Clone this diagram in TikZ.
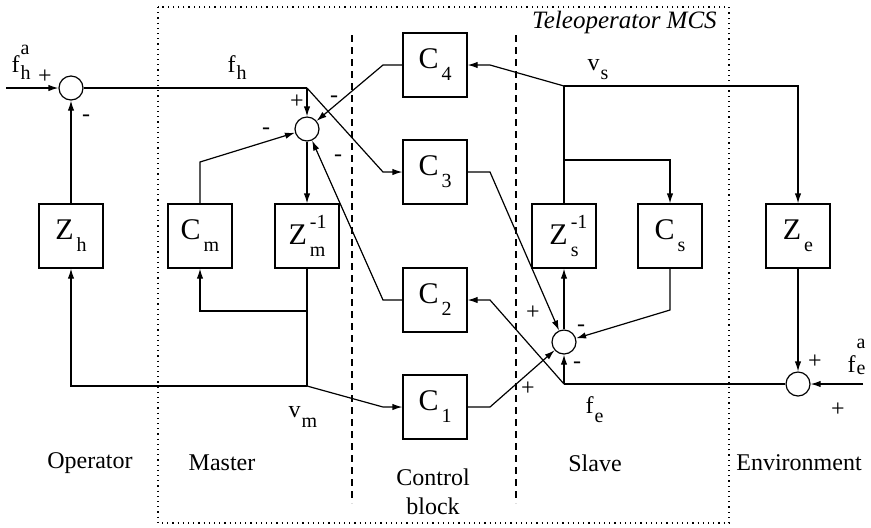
\documentclass[tikz,border=0pt]{standalone}
\usepackage{fontspec}
\setmainfont{Liberation Serif}
\usetikzlibrary{arrows.meta}

% block label: letter, subscript, superscript
\newcommand{\blk}[3]{{\fontsize{15}{15}\selectfont #1}\hspace{1.5pt}{\fontsize{10}{10}\selectfont\rlap{\raisebox{-6pt}{#2}}\rlap{\raisebox{8pt}{#3}}\phantom{#2}}}
% signal label: letter, subscript, superscript, [sub drop], [sup raise]
\newcommand{\sig}[5]{{\fontsize{12}{12}\selectfont #1}\hspace{0.5pt}{\fontsize{10}{10}\selectfont\rlap{\raisebox{-#4}{#2}}\rlap{\raisebox{#5}{#3}}\phantom{#2}}}

\begin{document}
\begin{tikzpicture}[
    x=0.5pt, y=-0.5pt,
    >={Latex[length=5pt,width=3.2pt]},
    line width=0.6pt,
    block/.style={draw, minimum size=32pt, inner sep=0pt},
    sumnode/.style={circle, draw, minimum size=12pt, inner sep=0pt},
    arrow/.style={->},
    sign/.style={font=\fontsize{12}{12}\selectfont, inner sep=0pt},
    siglabel/.style={anchor=base west, inner sep=0pt},
    region/.style={font=\fontsize{12}{14.5}\selectfont, align=center}
]
\useasboundingbox (0,0) rectangle (871,527);

% === Frames ===
\draw[dotted] (158,7) rectangle (729,523);
\draw[dash pattern=on 3.5pt off 2.5pt] (352,35) -- (352,503);
\draw[dash pattern=on 3.5pt off 2.5pt] (516,35) -- (516,503);
\node[region, font=\fontsize{12.5}{14}\selectfont\itshape, anchor=east] (title) at (724,22) {Teleoperator MCS};

% === Blocks ===
\node[block] (C4) at (435,65) {\blk{C}{4}{}};
\node[block] (C3) at (435,172) {\blk{C}{3}{}};
\node[block] (C2) at (435,300) {\blk{C}{2}{}};
\node[block] (C1) at (435,407) {\blk{C}{1}{}};
\node[block] (Zh) at (71,236) {\blk{Z}{h}{}};
\node[block] (Cm) at (200,236) {\blk{C}{m}{}};
\node[block] (Zm) at (307,236) {\blk{Z}{m}{-1}};
\node[block] (Zs) at (564,236) {\blk{Z}{s}{-1}};
\node[block] (Cs) at (670,236) {\blk{C}{s}{}};
\node[block] (Ze) at (798,236) {\blk{Z}{e}{}};

% === Summing junctions ===
\node[sumnode] (sumh) at (71,88) {};
\node[sumnode] (summ) at (307,129) {};
\node[sumnode] (sums) at (564,342) {};
\node[sumnode] (sume) at (798,384) {};

% === Branch points ===
\coordinate (inh) at (6,88);
\coordinate (ine) at (863,384);
\coordinate (fhj) at (307,88);
\coordinate (vmj) at (307,386);
\coordinate (cmj) at (307,311);
\coordinate (fej) at (564,384);
\coordinate (vsj) at (564,86);
\coordinate (csj) at (564,160);

% === Operator and master side ===
\draw[arrow] (inh) -- (sumh);
\draw (sumh) -- (fhj);
\draw[arrow] (fhj) -- (summ);
\draw[arrow] (fhj) -- (383,172) -- (C3);
\draw[arrow] (Zh) -- (sumh);
\draw[arrow] (C4) -- (383,65) -- (summ);
\draw[arrow] (Cm) -- (200,162) -- (summ);
\draw[arrow] (C2) -- (383,300) -- (summ);
\draw[arrow] (summ) -- (Zm);
\draw (Zm) -- (vmj);
\draw[arrow] (cmj) -- (200,311) -- (Cm);
\draw[arrow] (vmj) -- (71,386) -- (Zh);
\draw[arrow] (vmj) -- (383,407) -- (C1);

% === Slave and environment side ===
\draw[arrow] (C3) -- (490,172) -- (sums);
\draw[arrow] (C1) -- (490,407) -- (sums);
\draw[arrow] (Cs) -- (670,310) -- (sums);
\draw[arrow] (sums) -- (Zs);
\draw (Zs) -- (vsj);
\draw[arrow] (vsj) -- (490,65) -- (C4);
\draw[arrow] (csj) -- (670,160) -- (Cs);
\draw[arrow] (vsj) -- (798,86) -- (Ze);
\draw[arrow] (Ze) -- (sume);
\draw[arrow] (ine) -- (sume);
\draw (sume) -- (fej);
\draw[arrow] (fej) -- (sums);
\draw[arrow] (fej) -- (490,300) -- (C2);

% === Signs ===
\node[sign] (p1) at (45,77) {+};
\node[sign] (m1) at (86,118) {-};
\node[sign] (p2) at (297,102) {+};
\node[sign] (m2) at (266,131) {-};
\node[sign] (m3) at (334,99) {-};
\node[sign] (m4) at (338,158) {-};
\node[sign] (p3) at (533,313) {+};
\node[sign] (p4) at (528,389) {+};
\node[sign] (m5) at (581,328) {-};
\node[sign] (m6) at (577,365) {-};
\node[sign] (p5) at (815,362) {+};
\node[sign] (p6) at (838,410) {+};

% === Signal labels ===
\node[siglabel] (fha) at (11,72) {\sig{f}{h}{a}{3.5pt}{9pt}};
\node[siglabel] (fh) at (227,72) {\sig{f}{h}{}{3.5pt}{9pt}};
\node[siglabel] (vs) at (587,70) {\sig{v}{s}{}{4.5pt}{9pt}};
\node[siglabel] (vm) at (288,417) {\sig{v}{m}{}{5pt}{9pt}};
\node[siglabel] (fe) at (585,413) {\sig{f}{e}{}{4.5pt}{9pt}};
\node[siglabel] (fea) at (847,372) {\sig{f}{e}{a}{1pt}{12pt}};

% === Regions ===
\node[region] (op) at (90,463) {Operator};
\node[region] (ma) at (222,463) {Master};
\node[region] (cb) at (433,492) {Control\\block};
\node[region] (sl) at (595,463) {Slave};
\node[region] (en) at (799,463) {Environment};

\end{tikzpicture}
\end{document}
